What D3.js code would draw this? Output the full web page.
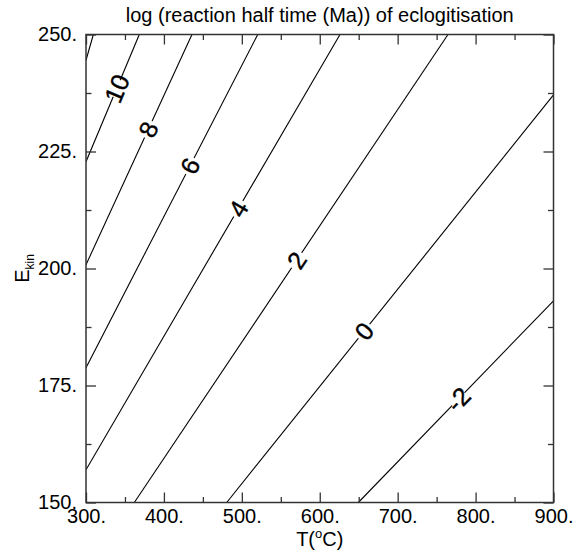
<!DOCTYPE html>
<head>
    <title>log half time</title>
    <script src="https://cdn.jsdelivr.net/npm/d3@7"></script>
    <style>
        body { margin: 0; background: #fff; }
        text { font-family: "Liberation Sans", Arial, sans-serif; }
    </style>
</head>
<body>

<div id="container"></div>

<script>

// Dimensions
const width = 583;
const height = 558;
const marginLeft = 86;
const marginTop = 34.5;
const plotW = 467.5;
const plotH = 468;

// Contour levels and the end points of each line
const levels = [12, 10, 8, 6, 4, 2, 0, -2];
const lineT = [[300, 309.4], [300, 368.4], [300, 436.0], [300, 520.4], [300, 626.0], [362.0, 764.6], [480.6, 900], [649.5, 900]];
const lineE = [[244.5, 250], [222.8, 250], [200.8, 250], [178.8, 250], [157.0, 250], [150, 250], [150, 237.1], [150, 193.1]];
// where the label sits along each line (T value), null = no label
const labelT = [null, 339.4, 380, 433.5, 495.5, 570.4, 656.8, 777.8];

// Ticks
const xMajor = [300, 400, 500, 600, 700, 800, 900];
const xMinor = [350, 450, 550, 650, 750, 850];
const yMajor = [150, 175, 200, 225, 250];
const yMinor = [162.5, 187.5, 212.5, 237.5];

const svg = d3.create("svg")
    .attr("width", width)
    .attr("height", height);

const x = d3.scaleLinear().domain([300, 900]).range([marginLeft, marginLeft + plotW]);
const y = d3.scaleLinear().domain([150, 250]).range([marginTop + plotH, marginTop]);

svg.append("clipPath").attr("id", "clip")
    .append("rect")
    .attr("x", marginLeft).attr("y", marginTop)
    .attr("width", plotW).attr("height", plotH);

// Contour lines
const lines = levels.map((lv, i) => ({
    level: lv,
    pts: lineT[i].map((t, j) => [t, lineE[i][j]]),
    labelT: labelT[i]
}));

const line = d3.line().x(d => x(d[0])).y(d => y(d[1]));

const gLines = svg.append("g").attr("clip-path", "url(#clip)");
gLines.selectAll("path")
    .data(lines)
    .enter().append("path")
    .attr("d", d => line(d.pts))
    .attr("fill", "none")
    .attr("stroke", "#000")
    .attr("stroke-width", 1.1);

// Labels, rotated along the line, with a white gap behind
const labelled = lines.filter(d => d.labelT !== null);
const labels = svg.append("g").selectAll("g")
    .data(labelled)
    .enter().append("g")
    .attr("transform", d => {
        const [p0, p1] = d.pts;
        const f = (d.labelT - p0[0]) / (p1[0] - p0[0]);
        const e = p0[1] + f * (p1[1] - p0[1]);
        const ang = Math.atan2(y(p1[1]) - y(p0[1]), x(p1[0]) - x(p0[0])) * 180 / Math.PI;
        return `translate(${x(d.labelT)},${y(e)}) rotate(${ang})`;
    });

labels.append("text")
    .attr("text-anchor", "middle")
    .attr("dy", "0.36em")
    .attr("font-size", 25)
    .attr("stroke", "#000")
    .attr("stroke-width", 0.4)
    .text(d => d.level);

labels.each(function() {
    const g = d3.select(this);
    const w = g.select("text").node().getComputedTextLength();
    g.insert("rect", "text")
        .attr("x", -w / 2 - 9)
        .attr("y", -6)
        .attr("width", w + 18)
        .attr("height", 12)
        .attr("fill", "#fff");
});

// Axes: ticks inward on all four sides
const axisColor = "#333";
function styleAxis(g) {
    g.select(".domain").remove();
    g.selectAll("line").attr("stroke", axisColor).attr("stroke-width", 1.3);
    g.selectAll("text").attr("font-size", 20).attr("fill", "#000")
        .style("font-family", "'Liberation Sans', Arial, sans-serif");
}

svg.append("g").attr("transform", `translate(0,${marginTop + plotH})`)
    .call(d3.axisBottom(x).tickValues(xMajor).tickSize(-10).tickPadding(6).tickFormat(d => d + "."))
    .call(styleAxis);
svg.append("g").attr("transform", `translate(0,${marginTop + plotH})`)
    .call(d3.axisBottom(x).tickValues(xMinor).tickSize(-5.5).tickFormat(""))
    .call(styleAxis);
svg.append("g").attr("transform", `translate(0,${marginTop})`)
    .call(d3.axisTop(x).tickValues(xMajor).tickSize(-10).tickFormat(""))
    .call(styleAxis);
svg.append("g").attr("transform", `translate(0,${marginTop})`)
    .call(d3.axisTop(x).tickValues(xMinor).tickSize(-5.5).tickFormat(""))
    .call(styleAxis);

svg.append("g").attr("transform", `translate(${marginLeft},0)`)
    .call(d3.axisLeft(y).tickValues(yMajor).tickSize(-10).tickPadding(9).tickFormat(d => d + "."))
    .call(styleAxis);
svg.append("g").attr("transform", `translate(${marginLeft},0)`)
    .call(d3.axisLeft(y).tickValues(yMinor).tickSize(-5.5).tickFormat(""))
    .call(styleAxis);
svg.append("g").attr("transform", `translate(${marginLeft + plotW},0)`)
    .call(d3.axisRight(y).tickValues(yMajor).tickSize(-10).tickFormat(""))
    .call(styleAxis);
svg.append("g").attr("transform", `translate(${marginLeft + plotW},0)`)
    .call(d3.axisRight(y).tickValues(yMinor).tickSize(-5.5).tickFormat(""))
    .call(styleAxis);

// Frame
svg.append("rect")
    .attr("x", marginLeft).attr("y", marginTop)
    .attr("width", plotW).attr("height", plotH)
    .attr("fill", "none")
    .attr("stroke", axisColor)
    .attr("stroke-width", 1.5);

// Title
svg.append("text")
    .attr("x", marginLeft + plotW / 2)
    .attr("y", 22)
    .attr("text-anchor", "middle")
    .attr("font-size", 20)
    .text("log (reaction half time (Ma)) of eclogitisation");

// X label
const xl = svg.append("text")
    .attr("x", marginLeft + plotW / 2)
    .attr("y", 546)
    .attr("text-anchor", "middle")
    .attr("font-size", 20);
xl.append("tspan").text("T(");
xl.append("tspan").attr("font-size", 13).attr("dy", -8).text("o");
xl.append("tspan").attr("dy", 8).text("C)");

// Y label
const yl = svg.append("text")
    .attr("transform", `translate(29,${marginTop + plotH / 2}) rotate(-90)`)
    .attr("text-anchor", "middle")
    .attr("font-size", 20);
yl.append("tspan").text("E");
yl.append("tspan").attr("font-size", 12).attr("dy", 5).text("kin");

container.append(svg.node());

</script>

</body>
